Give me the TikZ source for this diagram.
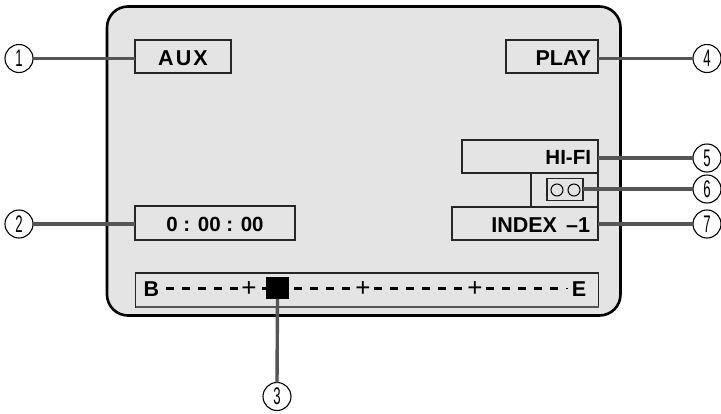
\documentclass[tikz,border=0pt]{standalone}
\usepackage{fontspec}
\setmainfont{Liberation Sans}
\tikzset{
  panel/.style={draw=black!85,line width=1.1pt,fill=screen,outer sep=0pt,inner xsep=7pt,inner ysep=0pt,font=\fontsize{21.5}{23}\selectfont\bfseries,text depth=0pt},
  callout/.style={circle,draw=black,line width=1.1pt,fill=white,minimum size=28pt,inner sep=0pt,outer sep=0pt,font=\fontsize{24}{25}\selectfont},
  lead/.style={draw=leadgray,line width=3.4pt},
  tick/.style={draw=black,line width=2.6pt},
  capletter/.style={inner sep=0pt,anchor=base,font=\fontsize{21.5}{23}\selectfont\bfseries},
}
\definecolor{screen}{HTML}{E4E4E4}
\definecolor{leadgray}{HTML}{555555}
\newcommand{\narrow}[1]{\scalebox{0.55}[1]{#1}}
\begin{document}
\begin{tikzpicture}[x=1pt,y=-1pt]
\useasboundingbox (0,0) rectangle (721,413);
\draw[black,line width=2.6pt,fill=screen,rounded corners=21pt] (107,6.5) rectangle (620.5,315.5);
% display panels
\node[panel,minimum width=96pt,minimum height=33pt,text height=17pt] (aux) at (183,56.5) {\addfontfeature{LetterSpace=10}AUX};
\node[panel,minimum width=92pt,minimum height=33pt,text width=78pt,align=right,text height=17pt] (play) at (552,56.5) {PLAY};
\node[panel,minimum width=136pt,minimum height=33pt,text width=122pt,align=right,text height=15pt,font=\fontsize{20.5}{23}\selectfont\bfseries] (hifi) at (530,156.5) {HI-FI};
\node[panel,minimum width=67pt,minimum height=34pt] (tapebay) at (564.5,190) {};
\node[panel,minimum width=146pt,minimum height=33pt,text width=133pt,inner xsep=6.5pt,align=right,text height=17pt] (index) at (525,223.5) {INDEX\kern9pt –1\kern1.5pt};
\node[panel,minimum width=160pt,minimum height=34pt,text height=17pt,font=\fontsize{20.5}{23}\selectfont\bfseries] (time) at (215,223) {0 : 00 : 00};
% tape icon
\node[draw=black!85,line width=1.1pt,fill=screen,minimum width=36pt,minimum height=22pt,inner sep=0pt,outer sep=0pt] (tape) at (565,189.5) {};
\node[circle,draw=black,line width=1pt,minimum size=12pt,inner sep=0pt] (reela) at (557,190) {};
\node[circle,draw=black,line width=1pt,minimum size=12pt,inner sep=0pt] (reelb) at (574,190) {};
% position bar
\node[panel,minimum width=463pt,minimum height=34pt] (bar) at (367,290) {};
\draw[leadgray,line width=1.6pt] (bar.south west) -- (bar.south east);
\node[capletter] (b) at (151.5,296) {B};
\node[capletter] (e) at (579,296) {E};
\foreach \x in {166,182,198,214,230,262,294,310,326,342,374,390,406,422,438,454,486,502,518,534,550}
  \draw[tick] (\x,288.5) -- ++(8,0);
\draw[tick,line width=1.6pt] (566,288.5) -- ++(1.5,0);
\foreach \x in {249,363,475}
  \node[inner sep=0pt,font=\fontsize{26}{26}\selectfont] at (\x,288.5) {+};
\node[fill=black,minimum width=23pt,minimum height=22pt,inner sep=0pt,outer sep=0pt] (slider) at (277.5,288) {};
% callouts
\node[callout] (c1) at (19,58.5) {\narrow{1}};
\node[callout] (c2) at (19,224) {\narrow{2}};
\node[callout] (c3) at (277,396.5) {\narrow{3}};
\node[callout] (c4) at (707,58.5) {\narrow{4}};
\node[callout] (c5) at (707,158) {\narrow{5}};
\node[callout] (c6) at (707,189) {\narrow{6}};
\node[callout] (c7) at (707,224) {\narrow{7}};
% leaders
\draw[lead] (c1.east) -- (c1.east -| aux.west);
\draw[lead] (c2.east) -- (c2.east -| time.west);
\draw[lead] (slider.south) -- (c3.north);
\draw[lead] (c4.west) -- (c4.west -| play.east);
\draw[lead] (c5.west) -- (c5.west -| hifi.east);
\draw[lead] (c6.west) -- (c6.west -| tape.east);
\draw[lead] (c7.west) -- (c7.west -| index.east);
\end{tikzpicture}
\end{document}
